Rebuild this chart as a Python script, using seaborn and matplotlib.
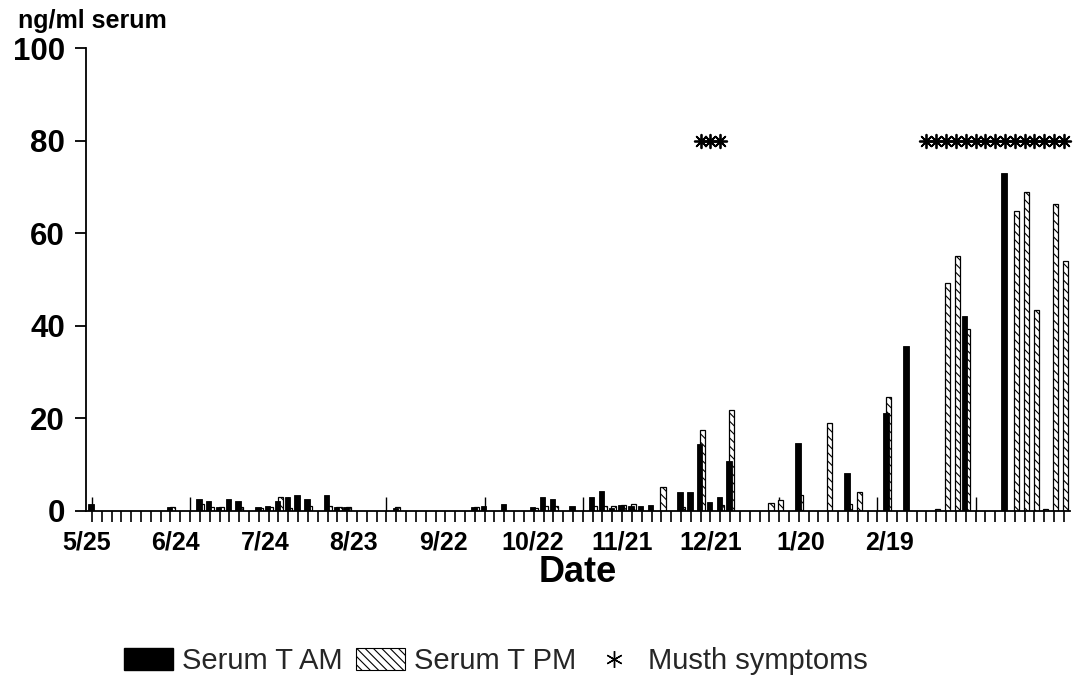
import matplotlib
matplotlib.use("Agg")
import matplotlib.pyplot as plt
from matplotlib.patches import Patch
from matplotlib.lines import Line2D
from matplotlib.ticker import MultipleLocator
import seaborn as sns

# Sampling occasions (sample number) and serum testosterone, ng/ml
am_samples = [0, 8, 11, 12, 13, 14, 15, 17, 18, 19, 20, 21, 22, 24, 25, 26, 31,
              39, 40, 42, 45, 46, 47, 49, 51, 52, 53, 54, 55, 56, 57, 60, 61,
              62, 63, 64, 65, 72, 77, 81, 83, 89, 93]
am_values = [1.4, 0.9, 2.5, 2.0, 0.8, 2.6, 2.2, 0.9, 1.0, 2.0, 2.9, 3.5, 2.6, 3.3,
             0.8, 0.8, 0.5, 0.8, 1.0, 1.5, 0.8, 3.0, 2.6, 1.0, 3.0, 4.2, 0.6,
             1.2, 1.0, 1.1, 1.2, 4.0, 4.0, 14.5, 1.8, 3.0, 10.7, 14.6, 8.2,
             21.2, 35.6, 42.0, 73.0]

pm_samples = [8, 11, 12, 13, 15, 17, 18, 19, 20, 22, 24, 25, 26, 31, 39, 45, 46,
              47, 51, 52, 53, 54, 55, 58, 60, 62, 64, 65, 69, 70, 72, 75, 77,
              78, 81, 86, 87, 88, 89, 94, 95, 96, 97, 98, 99]
pm_values = [0.7, 1.4, 0.9, 0.8, 0.8, 0.6, 0.9, 3.0, 0.6, 1.0, 1.0, 0.7, 0.7,
             0.8, 0.8, 0.5, 1.0, 1.0, 1.0, 1.0, 1.0, 1.2, 1.4, 5.2, 0.8, 17.5,
             1.2, 21.8, 1.6, 2.3, 3.3, 19.0, 1.5, 4.0, 24.6, 0.4, 49.2, 55.0,
             39.2, 64.8, 68.8, 43.3, 0.4, 66.2, 53.9]

# Samples on which musth symptoms were recorded
musth_samples = [62, 63, 64] + list(range(85, 100))
MUSTH_LEVEL = 80

# Date labels, in days after 5/25
date_labels = ["5/25", "6/24", "7/24", "8/23", "9/22", "10/22", "11/21",
               "12/21", "1/20", "2/19"]
date_days = [0, 30, 60, 90, 120, 150, 180, 210, 240, 270]
FIRST_SAMPLE_DAY = 1.9
SAMPLE_INTERVAL = 3.3

y_ticks = [0, 20, 40, 60, 80, 100]

sns.set_theme(style="ticks")
plt.rcParams["font.family"] = ["Liberation Sans", "DejaVu Sans"]
plt.rcParams["hatch.linewidth"] = 0.8

fig = plt.figure(figsize=(10.73, 6.79), dpi=100)
W, H = 1073, 679
ax = fig.add_axes([85.8 / W, (H - 510.7) / H, (1069.8 - 85.8) / W, (510.7 - 48) / H])

HATCH = "\\" * 4

# PM bars sit slightly right of and behind the AM bars
sns.barplot(x=[s + 0.17 for s in pm_samples], y=pm_values, native_scale=True,
            width=0.52, color="white", edgecolor="black", linewidth=0.9,
            hatch=HATCH, saturation=1, errorbar=None, ax=ax, zorder=2)
sns.barplot(x=[s - 0.1 for s in am_samples], y=am_values, native_scale=True,
            width=0.56, color="black", edgecolor="black", linewidth=0.6,
            saturation=1, errorbar=None, ax=ax, zorder=3)

sns.scatterplot(x=musth_samples, y=[MUSTH_LEVEL] * len(musth_samples),
                marker=(8, 2, 0), s=95, color="black", linewidth=1.3,
                ax=ax, zorder=4, clip_on=False, legend=False)

ax.set_xlim(-0.62, 99.6)
ax.set_ylim(0, 100)
sns.despine(ax=ax)
for side in ("left", "bottom"):
    ax.spines[side].set_linewidth(1.3)
    ax.spines[side].set_color("black")

# x ticks: short inward marks every 10 samples, outward marks at every sample
ax.xaxis.remove_overlapping_locs = False
ax.xaxis.set_major_locator(MultipleLocator(10))
ax.xaxis.set_minor_locator(MultipleLocator(1))
ax.tick_params(axis="x", which="major", direction="in", length=10, width=1.0,
               color="black", labelbottom=False)
ax.tick_params(axis="x", which="minor", direction="out", length=8, width=1.2,
               color="black")

ax.set_yticks(y_ticks)
ax.tick_params(axis="y", direction="out", length=8, width=1.3, color="black",
               labelsize=22.5, pad=7, labelcolor="black")
for t in ax.get_yticklabels():
    t.set_fontweight("bold")

# Date labels on a secondary axis, placed by calendar day
label_pos = [(d - FIRST_SAMPLE_DAY) / SAMPLE_INTERVAL for d in date_days]
sec = ax.secondary_xaxis("bottom")
sec.set_xticks(label_pos, labels=date_labels, fontweight="bold")
sec.tick_params(axis="x", length=0, pad=14, labelsize=18, labelcolor="black")
sec.spines["bottom"].set_visible(False)

ax.set_xlabel("Date", fontsize=26, fontweight="bold", color="black")
ax.xaxis.set_label_coords(0.5, -0.134)
ax.xaxis.label.set_va("center")

ax.set_ylabel("ng/ml serum", rotation=0, fontsize=18, fontweight="bold",
              color="black", ha="left", va="center")
ax.yaxis.set_label_coords(-0.069, 1.058)

handles = [
    Patch(facecolor="black", edgecolor="black"),
    Patch(facecolor="white", edgecolor="black", hatch=HATCH, linewidth=0.8),
    Line2D([], [], linestyle="none", marker=(6, 2, 0), markersize=12,
           markeredgewidth=1.0, color="black"),
]
labels = ["Serum T AM", "Serum T PM", "Musth symptoms"]
fig.legend(handles, labels, loc="center", bbox_to_anchor=(0.462, 0.0265),
           ncol=3, frameon=False, fontsize=21, handlelength=1.7,
           handleheight=0.75, handletextpad=0.3, columnspacing=0.45)

fig.savefig("out.png", dpi=100)
